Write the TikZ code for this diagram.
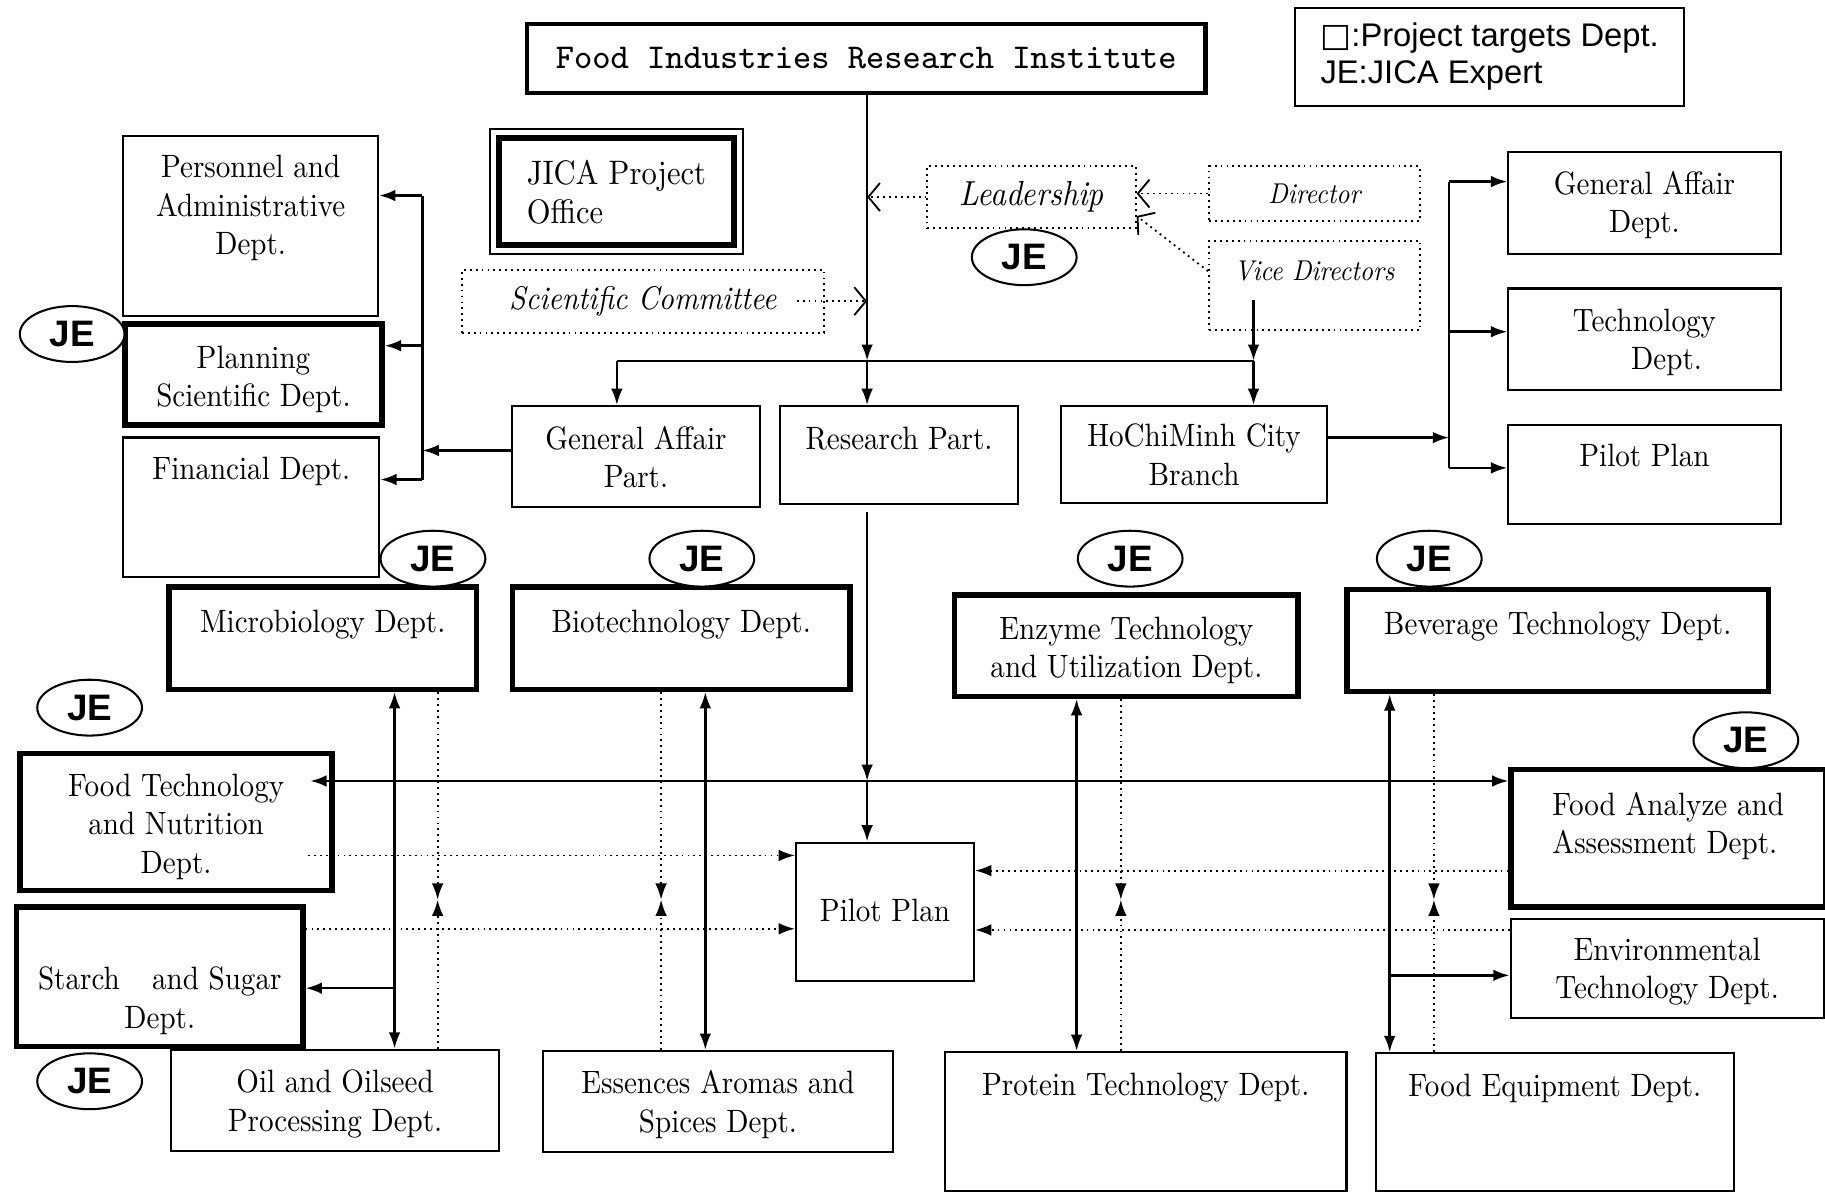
\documentclass[tikz,border=0pt]{standalone}
\usepackage{fontspec}
\setmainfont{lmroman10-regular.otf}[ItalicFont=lmroman10-italic.otf, FakeStretch=0.9]
\usetikzlibrary{shapes.geometric,arrows.meta}
\newfontfamily\jefont{Liberation Sans}
\newfontfamily\symfont{DejaVu Sans}

\tikzset{
  box/.style={draw, line width=0.5pt, anchor=north west, inner sep=0pt,
    align=center, font=\fontsize{7.9}{9.4}\selectfont},
  bigbox/.style={box, line width=1.3pt},
  dotbox/.style={draw, densely dotted, line width=0.45pt, anchor=north west,
    inner sep=0pt, font=\fontsize{7}{8.4}\selectfont\itshape},
  je/.style={draw, ellipse, fill=white, line width=0.5pt, minimum width=9mm,
    minimum height=4.8mm, inner sep=0pt,
    font=\jefont\bfseries\fontsize{9}{9}\selectfont},
  link/.style={line width=0.6pt},
  dots/.style={densely dotted, line width=0.45pt},
  barb/.style={-{Straight Barb[length=1mm,width=2.4mm]}}
}

\begin{document}
\begin{tikzpicture}[x=0.1mm, y=-0.1mm, >={Latex[length=1.4mm,width=1mm]}]
    \useasboundingbox (0,0) rectangle (1568,1024);
    % head and legend
    \node[box, line width=1pt, minimum width=58.3mm, minimum height=5.9mm,
      font=\ttfamily\fontsize{8.5}{10}\selectfont] (fir) at (451,19) {Food Industries Research Institute};
    \node[box, minimum width=33.4mm, minimum height=8.4mm, align=left,
      font=\jefont\fontsize{8}{9.1}\selectfont] (key) at (1112,6) {{\symfont □}:Project targets Dept.\\JE:JICA Expert};
    \node[bigbox, line width=1.5pt, minimum width=20.2mm, text height=7.3mm, text depth=1.9mm,
      align=left, font=\fontsize{8.3}{9.4}\selectfont] (jica) at (426,116) {JICA Project\\Office};
    \draw[line width=0.5pt] ([shift={(-0.5mm,0.5mm)}]jica.north west) rectangle ([shift={(0.5mm,-0.5mm)}]jica.south east);

    % leadership
    \node[dotbox, minimum width=31.1mm, minimum height=5.4mm,
      font=\fontsize{8}{9}\selectfont\itshape] (sci) at (396,231) {Scientific Committee};
    \node[dotbox, minimum width=17.9mm, minimum height=5.3mm,
      font=\fontsize{8.5}{9}\selectfont\itshape] (lead) at (796,142) {Leadership};
    \node[dotbox, minimum width=18.1mm, minimum height=4.7mm] (dir) at (1038,142) {Director};
    \node[dotbox, minimum width=18.1mm, text height=3.4mm, text depth=4.3mm] (vice) at (1038,206) {Vice Directors};

    % left column
    \node[box, minimum width=21.9mm, text height=10.2mm, text depth=5.3mm] (pers) at (105,116) {Personnel and\\Administrative\\Dept.};
    \node[bigbox, minimum width=22.1mm, text height=7.1mm, text depth=1.6mm] (plan) at (105,276) {Planning\\Scientific Dept.};
    \node[box, minimum width=22mm, text height=3.6mm, text depth=8.4mm] (fin) at (105,375) {Financial Dept.};

    % parts
    \node[box, minimum width=21.3mm, text height=7mm, text depth=1.7mm] (gap) at (439,348) {General Affair\\Part.};
    \node[box, minimum width=20.5mm, text height=3.7mm, text depth=4.7mm] (res) at (669,348) {Research Part.};
    \node[box, minimum width=22.8mm, text height=6.8mm, text depth=1.5mm] (hcm) at (911,348) {HoChiMinh City\\Branch};

    % branch column
    \node[box, minimum width=23.4mm, text height=6.9mm, text depth=1.8mm] (gad) at (1295,130) {General Affair\\Dept.};
    \node[box, minimum width=23.4mm, text height=7mm, text depth=1.7mm] (tech) at (1295,247) {Technology\\\hspace*{3.8mm}Dept.};
    \node[box, minimum width=23.4mm, text height=3.6mm, text depth=4.9mm] (pilotr) at (1295,364) {Pilot Plan};

    % departments
    \node[bigbox, minimum width=26.4mm, text height=3.9mm, text depth=4.9mm] (micro) at (143,502) {Microbiology Dept.};
    \node[bigbox, minimum width=29mm, text height=3.9mm, text depth=4.9mm] (bio) at (438,502) {Biotechnology Dept.};
    \node[bigbox, minimum width=29.5mm, text height=7.1mm, text depth=1.6mm] (enz) at (818,509) {Enzyme Technology\\and Utilization Dept.};
    \node[bigbox, minimum width=36.2mm, text height=3.9mm, text depth=4.9mm] (bev) at (1155,504) {Beverage Technology Dept.};
    \node[bigbox, minimum width=26.8mm, text height=10.3mm, text depth=1.5mm] (ftn) at (15,645) {Food Technology\\and Nutrition\\Dept.};
    \node[bigbox, minimum width=24.6mm, text height=10.4mm, text depth=1.6mm] (starch) at (12,777) {Starch\quad and Sugar\\Dept.};
    \node[box, minimum width=15.3mm, text height=6.8mm, text depth=5.1mm] (pilot) at (683,723) {Pilot Plan};
    \node[bigbox, minimum width=27mm, text height=7.2mm, text depth=4.6mm, align=left] (faa) at (1296,659) {Food Analyze and\\Assessment Dept.};
    \node[box, minimum width=26.9mm, text height=6.8mm, text depth=1.7mm] (env) at (1297,789) {Environmental\\Technology Dept.};
    \node[box, minimum width=28.2mm, text height=7mm, text depth=1.7mm] (oil) at (146,901) {Oil and Oilseed\\Processing Dept.};
    \node[box, minimum width=30mm, text height=7mm, text depth=1.7mm] (ess) at (466,902) {Essences Aromas and\\Spices Dept.};
    \node[box, minimum width=34.5mm, text height=3.7mm, text depth=8.2mm] (prot) at (811,903) {Protein Technology Dept.};
    \node[box, minimum width=30.8mm, text height=3.7mm, text depth=8.1mm] (equip) at (1181,904) {Food Equipment Dept.};

    % experts
    \node[je] (je1) at (62,287) {JE};
    \node[je] (je2) at (880,221) {JE};
    \node[je] (je3) at (372,480) {JE};
    \node[je] (je4) at (603,480) {JE};
    \node[je] (je5) at (971,480) {JE};
    \node[je] (je6) at (1228,480) {JE};
    \node[je] (je7) at (77,608) {JE};
    \node[je] (je8) at (77,929) {JE};
    \node[je] (je9) at (1500,636) {JE};

    % bus points
    \coordinate (trunk) at (745,310);
    \coordinate (gapin) at (530,310);
    \coordinate (hcmin) at (1077,310);
    \coordinate (vout) at (1077,258);
    \coordinate (lbus1) at (363,168);
    \coordinate (lbus2) at (363,297);
    \coordinate (lbus3) at (363,412);
    \coordinate (lbusin) at (363,387);
    \coordinate (rbus1) at (1245,156);
    \coordinate (rbus2) at (1245,285);
    \coordinate (rbus3) at (1245,402);
    \coordinate (rbusin) at (1245,376);
    \coordinate (resout) at (745,440);
    \coordinate (hbus) at (745,671);

    %Top arrows
    \draw[link,->] (fir.south -| trunk) -- (trunk);
    \draw[link,->] (trunk) -- (trunk |- res.north);
    \draw[link] (gapin) -- (hcmin);
    \draw[link,->] (gapin) -- (gapin |- gap.north);
    \draw[link,->] (vout) -- (hcmin);
    \draw[link,->] (hcmin) -- (hcmin |- hcm.north);
    \draw[dots,barb] ([xshift=-2.4mm]sci.east) -- (sci.east -| trunk);
    \draw[dots,barb] (lead.west) -- (lead.west -| trunk);
    \draw[dots,barb] (dir.west) -- (dir.west -| lead.east);
    \draw[dots,barb] ([yshift=-2.7mm]vice.north west) -- ([yshift=1.1mm]lead.south east);

    %Side buses
    \draw[link,->] (gap.west |- lbusin) -- (lbusin);
    \draw[link] (lbus1) -- (lbus3);
    \draw[link,->] (lbus1) -- (lbus1 -| pers.east);
    \draw[link,->] (lbus2) -- (lbus2 -| plan.east);
    \draw[link,->] (lbus3) -- (lbus3 -| fin.east);
    \draw[link,->] (hcm.east |- rbusin) -- (rbusin);
    \draw[link] (rbus1) -- (rbus3);
    \draw[link,->] (rbus1) -- (rbus1 -| gad.west);
    \draw[link,->] (rbus2) -- (rbus2 -| tech.west);
    \draw[link,->] (rbus3) -- (rbus3 -| pilotr.west);

    %Research to pilot plan
    \draw[link,->] (resout) -- (hbus);
    \draw[link,->] (hbus) -- (hbus |- pilot.north);
    \draw[link,<->] ([xshift=-2.1mm]ftn.east |- hbus) -- (faa.west |- hbus);

    %Vertical arrows
    \foreach \s/\d/\up/\down in {339/376/micro/oil, 606/568/bio/ess, 925/963/enz/prot, 1194/1232/bev/equip}{
      \coordinate (s\up) at (\s,773);
      \coordinate (d\up) at (\d,773);
      \draw[link,<->] (s\up |- \up.south) -- (s\up |- \down.north);
      \draw[dots,->] (d\up |- \up.south) -- (d\up);
      \draw[dots,->] (d\up |- \down.north) -- (d\up);
    };
    \coordinate (sarr) at (339,849);
    \coordinate (earr) at (1194,838);
    \draw[link,->] (sarr) -- (sarr -| starch.east);
    \draw[link,->] (earr) -- (earr -| env.west);

    %Dotted arrows into pilot plan
    \coordinate (p1) at (683,735);
    \coordinate (p2) at (683,798);
    \coordinate (p3) at (836,748);
    \coordinate (p4) at (836,799);
    \draw[dots,->] ([xshift=-2.3mm]ftn.east |- p1) -- (pilot.west |- p1);
    \draw[dots,->] (starch.east |- p2) -- (pilot.west |- p2);
    \draw[dots,->] (faa.west |- p3) -- (pilot.east |- p3);
    \draw[dots,->] (env.west |- p4) -- (pilot.east |- p4);
\end{tikzpicture}
\end{document}
